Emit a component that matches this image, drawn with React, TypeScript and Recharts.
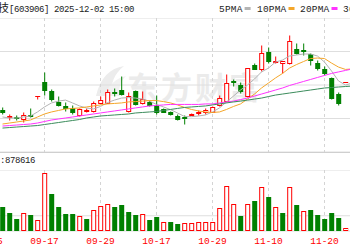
import React from "react";
import { ComposedChart, Bar, Line, XAxis, YAxis, CartesianGrid } from "recharts";

// trading days; the first two are only there so the 09-05 label can peek in at the left edge
const dates = [
  "09-05", "09-08",
  "09-09", "09-10", "09-11", "09-12", "09-15", "09-16", "09-17", "09-18", "09-19", "09-22",
  "09-23", "09-24", "09-25", "09-26", "09-29", "09-30", "10-09", "10-10", "10-13", "10-14",
  "10-15", "10-16", "10-17", "10-20", "10-21", "10-22", "10-23", "10-24", "10-27", "10-28",
  "10-29", "10-30", "10-31", "11-03", "11-04", "11-05", "11-06", "11-07", "11-10", "11-11",
  "11-12", "11-13", "11-14", "11-17", "11-18", "11-19", "11-20", "11-21", "11-24", "11-25",
  "11-26",
];
const labelDates = ["09-05", "09-17", "09-29", "10-17", "10-29", "11-10", "11-20"];
const maNames = ["5PMA", "10PMA", "20PMA", "30PMA"];

const open = [
  12.45, 12.03, 12.06, 11.97, 12.15, 13.29, 14.12, 13.6, 12.94, 12.69,
  12.57, 12.15, 12.39, 12.41, 12.91, 12.91, 13.55, 13.66, 12.41, 13.6,
  12.87, 12.93, 12.75, 12.51, 12.33, 12.11, 12.03, 12.18, 12.27, 12.36,
  12.35, 12.75, 13.0, 14.21, 14.0, 13.3, 15.19, 14.94, 15.93, 15.37,
  15.31, 15.3, 16.13, 16.05, 15.83, 15.3, 14.94, 14.4, 13.46, 14.16,
  15.58,
];
const high = [
  12.63, 12.21, 12.15, 12.33, 12.57, 13.3, 14.72, 13.76, 13.34, 12.94,
  12.75, 12.59, 12.57, 13.0, 13.3, 13.76, 13.82, 14.5, 13.54, 13.7,
  13.64, 13.1, 13.4, 12.57, 12.39, 12.21, 12.15, 12.27, 12.45, 12.57,
  12.69, 13.4, 14.6, 14.3, 14.14, 15.01, 15.3, 16.33, 16.21, 15.69,
  15.43, 16.93, 16.49, 16.49, 15.89, 15.45, 15.09, 14.46, 13.54, 14.16,
  15.58,
];
const low = [
  12.21, 11.91, 11.91, 11.79, 12.06, 13.16, 13.4, 13.04, 12.7, 12.39,
  12.21, 12.11, 12.35, 12.35, 12.87, 12.87, 13.34, 13.4, 12.35, 12.75,
  12.81, 12.7, 12.21, 12.33, 12.18, 11.87, 11.67, 12.15, 12.15, 12.21,
  12.33, 12.69, 12.94, 13.9, 13.5, 13.28, 14.9, 14.79, 15.31, 15.3,
  14.7, 15.24, 15.85, 15.79, 15.19, 14.85, 14.54, 13.15, 12.75, 14.16,
  15.58,
];
const close = [
  12.36, 12.09, 12.0, 12.15, 12.09, 13.3, 13.7, 13.15, 12.75, 12.57,
  12.33, 12.54, 12.48, 12.87, 13.06, 13.55, 13.49, 13.46, 13.3, 12.81,
  13.16, 12.75, 12.33, 12.35, 12.21, 11.97, 12.0, 12.24, 12.33, 12.45,
  12.63, 13.22, 14.06, 14.12, 13.6, 14.96, 14.92, 15.89, 15.39, 15.43,
  15.39, 16.59, 15.89, 15.99, 15.49, 15.0, 14.7, 13.21, 12.87, 14.16,
  15.58,
];
const prevClose = 12.45; // close of 09-08

const ma5 = [
  12.09, 12.03, 12.03, 12.09, 12.15, 12.39, 12.69, 12.93, 13.04, 13.1,
  12.93, 12.75, 12.63, 12.57, 12.72, 12.95, 13.1, 13.22, 13.25, 13.22,
  13.16, 13.04, 12.84, 12.69, 12.53, 12.33, 12.12, 12.11, 12.15, 12.21,
  12.39, 12.63, 12.99, 13.34, 13.7, 14.0, 14.36, 14.78, 15.01, 15.37,
  15.49, 15.73, 15.79, 15.85, 15.85, 15.73, 15.37, 14.84, 14.24, 14.0,
  14.12,
];
const ma10 = [
  11.67, 11.73, 11.79, 11.85, 11.91, 12.09, 12.27, 12.39, 12.48, 12.57,
  12.6, 12.63, 12.69, 12.75, 12.81, 12.87, 12.9, 12.93, 12.99, 13.01,
  13.04, 13.07, 13.07, 13.01, 12.93, 12.81, 12.66, 12.54, 12.45, 12.39,
  12.36, 12.39, 12.54, 12.72, 12.87, 13.16, 13.46, 13.82, 14.12, 14.42,
  14.69, 15.01, 15.22, 15.4, 15.58, 15.61, 15.58, 15.31, 15.07, 14.93,
  14.96,
];
const ma20 = [
  11.55, 11.58, 11.61, 11.64, 11.67, 11.73, 11.82, 11.91, 11.97, 12.03,
  12.09, 12.15, 12.21, 12.27, 12.33, 12.39, 12.45, 12.51, 12.57, 12.63,
  12.69, 12.75, 12.78, 12.81, 12.84, 12.84, 12.84, 12.84, 12.84, 12.87,
  12.87, 12.93, 12.99, 13.04, 13.13, 13.22, 13.34, 13.46, 13.58, 13.7,
  13.82, 13.97, 14.09, 14.21, 14.33, 14.45, 14.57, 14.69, 14.78, 14.87,
  14.96,
];
const ma30 = [
  11.43, 11.46, 11.49, 11.52, 11.55, 11.58, 11.64, 11.7, 11.76, 11.82,
  11.88, 11.94, 12.03, 12.09, 12.15, 12.18, 12.21, 12.24, 12.27, 12.33,
  12.36, 12.39, 12.42, 12.48, 12.54, 12.6, 12.66, 12.69, 12.72, 12.75,
  12.81, 12.87, 12.93, 12.99, 13.04, 13.1, 13.16, 13.22, 13.31, 13.4,
  13.46, 13.52, 13.58, 13.64, 13.7, 13.76, 13.82, 13.85, 13.88, 13.91,
  13.94,
];
const volume = [
  315000, 236000, 157000, 223000, 210000, 144000, 748000, 485000, 315000, 223000,
  223000, 184000, 157000, 275000, 315000, 341000, 315000, 341000, 249000, 210000,
  210000, 144000, 184000, 105000, 118000, 92000, 92000, 92000, 118000, 105000,
  105000, 289000, 590000, 354000, 197000, 354000, 393000, 577000, 446000, 302000,
  236000, 564000, 341000, 262000, 275000, 210000, 157000, 236000, 170000, 39000,
  144000,
];

const priceTicks = [10, 11, 12, 13, 14, 15, 16, 17, 18];
const volTicks = [0, 200000, 400000, 600000, 800000];

const RED = "#ff0000";
const GREEN = "#008000";
const GRID = "#dedede";
const MA_COLORS = ["#b4b4b4", "#f4a62a", "#ff33ff", "#3c8c5c"];

const offset = dates.length - close.length;
const table = dates.map((date, k) => {
  const i = k - offset;
  if (i < 0) return { date, range: null, volume: null };
  const prev = i === 0 ? prevClose : close[i - 1];
  const up = close[i] > open[i] || (close[i] === open[i] && close[i] >= prev);
  return {
    date,
    open: open[i],
    high: high[i],
    low: low[i],
    close: close[i],
    range: [low[i], high[i]],
    up,
    volUp: close[i] >= prev,
    ma5: ma5[i],
    ma10: ma10[i],
    ma20: ma20[i],
    ma30: ma30[i],
    volume: volume[i],
  };
});

const snap = (v: number) => Math.round(v - 0.5) + 0.5;

function Candle(props: any) {
  const { x, y, width, height, payload } = props;
  if (!payload || payload.open == null) return null;
  const { open: o, close: c, high: h, low: l, up } = payload;
  const cx = x + width / 2;
  const k = h > l ? height / (h - l) : 0;
  const py = (v: number) => y + (h - v) * k;
  const color = up ? RED : GREEN;
  const top = snap(py(Math.max(o, c)));
  const bot = snap(py(Math.min(o, c)));
  const yh = snap(py(h));
  const yl = snap(py(l));
  if (bot - top < 1) {
    return (
      <g>
        {yl > yh && <line x1={cx} x2={cx} y1={yh} y2={yl} stroke={color} />}
        <line x1={cx - 2.5} x2={cx + 2.5} y1={top} y2={top} stroke={color} />
      </g>
    );
  }
  if (up) {
    return (
      <g>
        <line x1={cx} x2={cx} y1={yh} y2={top} stroke={color} />
        <line x1={cx} x2={cx} y1={bot} y2={yl} stroke={color} />
        <rect x={cx - 2} y={top} width={4} height={bot - top} fill="#fff" stroke={color} />
      </g>
    );
  }
  return (
    <g>
      <line x1={cx} x2={cx} y1={yh} y2={yl} stroke={color} />
      <rect x={cx - 2.5} y={top - 0.5} width={5} height={bot - top + 1} fill={color} />
    </g>
  );
}

function VolBar(props: any) {
  const { x, y, width, height, payload } = props;
  if (!payload || payload.volume == null) return null;
  const cx = x + width / 2;
  const base = y + height;
  if (payload.volUp) {
    const t = snap(y);
    return <rect x={cx - 2} y={t} width={4} height={base - t - 0.5} fill="#fff" stroke={RED} />;
  }
  return <rect x={cx - 2.5} y={Math.round(y)} width={5} height={base - Math.round(y)} fill={GREEN} />;
}

function DateTick(props: any) {
  const { x, y, payload } = props;
  return (
    <text x={x} y={y + 13} textAnchor="middle" fill={RED} fontSize={9.5} fontFamily="Liberation Mono">
      {payload.value}
    </text>
  );
}

const mono = "Liberation Mono";
// where each MA name starts in the top-right legend
const legendX = [219, 257, 300, 343];

export default function App() {
  return (
    <div style={{ position: "absolute", left: 0, top: 0, width: 350, height: 250, overflow: "hidden", background: "#fff" }}>
      {/* watermark */}
      <svg width={350} height={250} style={{ position: "absolute", left: 0, top: 0 }}>
        <path d="M96 96 C100 78 110 68 124 66 C114 74 110 84 112 96 Z" fill="#ececec" />
        <path d="M104 96 C108 86 116 78 126 76 C120 82 118 90 120 96 Z" fill="#f1f1f1" />
        <text x={127} y={99} fontSize={31} fontWeight={700} fill="#ebebeb" letterSpacing={3} fontFamily="Noto Sans CJK SC">
          东方财富
        </text>
      </svg>

      <div style={{ position: "absolute", left: -15, top: 18 }}>
        <ComposedChart width={371} height={134} data={table} margin={{ top: 0, right: 0, bottom: 0, left: 0 }}>
          <CartesianGrid horizontal vertical={false} stroke={GRID} />
          <CartesianGrid horizontal={false} vertical stroke="#d4d4d4" strokeDasharray="3 3" />
          <XAxis dataKey="date" hide ticks={labelDates} interval={0} />
          <YAxis hide domain={[10, 18]} ticks={priceTicks} allowDataOverflow />
          <Line dataKey="ma5" stroke={MA_COLORS[0]} strokeWidth={1} dot={false} isAnimationActive={false} />
          <Line dataKey="ma10" stroke={MA_COLORS[1]} strokeWidth={1} dot={false} isAnimationActive={false} />
          <Line dataKey="ma20" stroke={MA_COLORS[2]} strokeWidth={1} dot={false} isAnimationActive={false} />
          <Line dataKey="ma30" stroke={MA_COLORS[3]} strokeWidth={1} dot={false} isAnimationActive={false} />
          <Bar dataKey="range" shape={Candle} isAnimationActive={false} />
        </ComposedChart>
      </div>

      <div style={{ position: "absolute", left: -15, top: 170 }}>
        <ComposedChart width={371} height={80} data={table} margin={{ top: 0, right: 0, bottom: 0, left: 0 }}>
          <CartesianGrid horizontal vertical={false} stroke={GRID} />
          <CartesianGrid horizontal={false} vertical stroke="#d4d4d4" strokeDasharray="3 3" />
          <XAxis
            dataKey="date"
            ticks={labelDates}
            interval={0}
            height={19}
            axisLine={false}
            tickLine={false}
            tickSize={0}
            tickMargin={0}
            tick={DateTick}
          />
          <YAxis hide domain={[0, 800000]} ticks={volTicks} allowDataOverflow />
          <Bar dataKey="volume" shape={VolBar} isAnimationActive={false} />
        </ComposedChart>
      </div>

      {/* header texts */}
      <svg width={350} height={250} style={{ position: "absolute", left: 0, top: 0, pointerEvents: "none" }}>
        <text x={9} y={12} textAnchor="end" fontSize={11} fill="#222" fontFamily="Noto Sans CJK SC">
          龙蟠科技
        </text>
        <text x={9} y={12} fontSize={9} letterSpacing={-0.4} fill="#222" fontFamily={mono}>
          [603906] 2025-12-02 15:00
        </text>
        {maNames.map((name, i) => (
          <g key={name}>
            <text x={legendX[i]} y={12} fontSize={9.5} letterSpacing={0.2} fill="#222" fontFamily={mono}>
              {name}
            </text>
            <rect x={legendX[i] + name.length * 5.9 + 2} y={7} width={6} height={3} fill={MA_COLORS[i]} />
          </g>
        ))}
        <line x1={0} x2={350} y1={152.5} y2={152.5} stroke="#cfcfcf" />
        <text x={0} y={163} fontSize={9} letterSpacing={-0.4} fill="#222" fontFamily={mono}>
          :878616
        </text>
      </svg>
    </div>
  );
}
